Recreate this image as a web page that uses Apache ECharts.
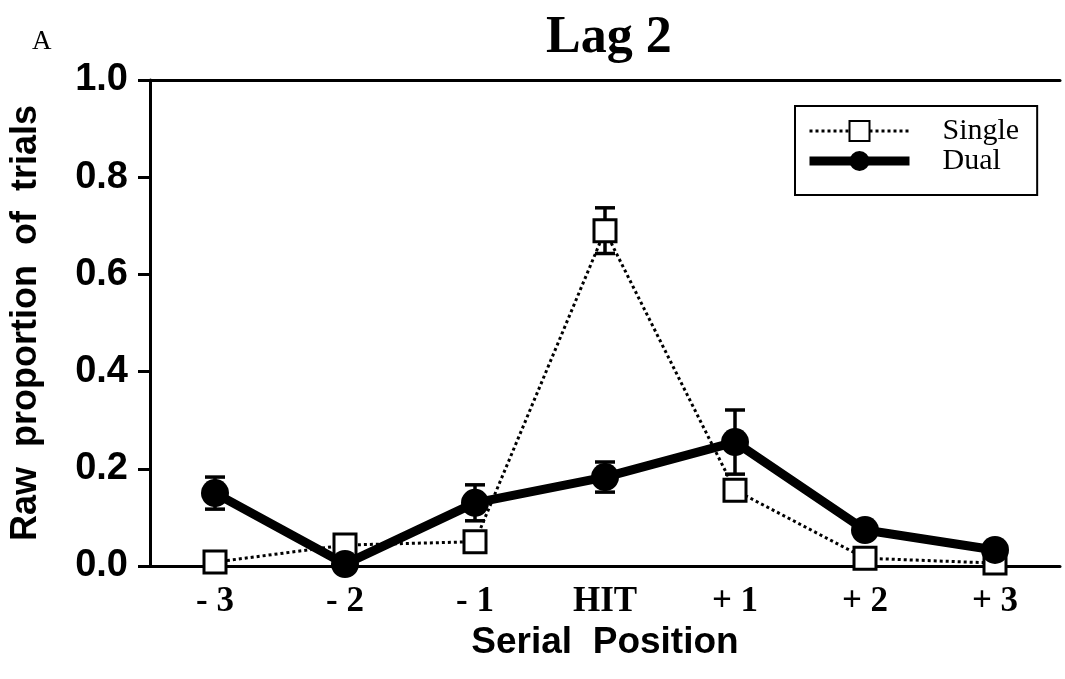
<!DOCTYPE html>
<html><head><meta charset="utf-8">
<script src="https://cdn.jsdelivr.net/npm/echarts@6/dist/echarts.min.js"></script>
<style>html,body{margin:0;padding:0;background:#fff}#c{width:1065px;height:679px}</style>
</head><body><div id="c"></div>
<script>
var categories = ['- 3', '- 2', '- 1', 'HIT', '+ 1', '+ 2', '+ 3'];
var singleValues = [0.008, 0.043, 0.05, 0.69, 0.156, 0.016, 0.006];
var singleErr = [0, 0, 0, 0.047, 0.02, 0, 0];
var dualValues = [0.15, 0.004, 0.13, 0.183, 0.255, 0.074, 0.033];
var dualErr = [0.033, 0, 0.037, 0.031, 0.066, 0, 0];

function errData(vals, errs) {
  var out = [];
  for (var i = 0; i < vals.length; i++) {
    if (errs[i] > 0) out.push([i, vals[i] - errs[i], vals[i] + errs[i]]);
  }
  return out;
}
function renderErr(params, api) {
  var x = api.value(0);
  var lo = api.coord([x, api.value(1)]);
  var hi = api.coord([x, api.value(2)]);
  var hw = 10;
  var st = {stroke: '#000', lineWidth: 3.5, fill: null};
  return {type: 'group', children: [
    {type: 'line', shape: {x1: lo[0], y1: lo[1], x2: hi[0], y2: hi[1]}, style: st},
    {type: 'line', shape: {x1: lo[0] - hw, y1: lo[1], x2: lo[0] + hw, y2: lo[1]}, style: st},
    {type: 'line', shape: {x1: hi[0] - hw, y1: hi[1], x2: hi[0] + hw, y2: hi[1]}, style: st}
  ]};
}

var chart = echarts.init(document.getElementById('c'));
chart.setOption({
  backgroundColor: '#fff',
  animation: false,
  title: [
    {text: 'Lag 2', left: 541, top: 8, textStyle: {fontFamily: 'Liberation Serif', fontWeight: 'bold', fontSize: 52, color: '#000'}},
    {text: 'A', left: 27, top: 23, textStyle: {fontFamily: 'Liberation Serif', fontWeight: 'normal', fontSize: 27, color: '#000'}}
  ],
  grid: {left: 150, right: 5, top: 80, bottom: 113},
  legend: {
    left: 795, top: 106, orient: 'vertical',
    backgroundColor: '#fff', borderColor: '#000', borderWidth: 2, borderRadius: 0,
    padding: [10, 18, 19, 10], itemGap: 0, itemWidth: 100, itemHeight: 25,
    textStyle: {fontFamily: 'Liberation Serif', fontSize: 30, color: '#000', padding: [0, 0, 0, 28], lineHeight: 25},
    data: [
      {name: 'Single', lineStyle: {width: 3, type: [3, 3], color: '#000'}},
      {name: 'Dual', lineStyle: {width: 9, color: '#000'}}
    ]
  },
  xAxis: [{
    type: 'category', data: categories, boundaryGap: true,
    name: 'Serial  Position', nameLocation: 'middle', nameGap: 57,
    nameTextStyle: {fontFamily: 'Liberation Sans', fontWeight: 'bold', fontSize: 37, color: '#000'},
    axisLine: {lineStyle: {color: '#000', width: 3}},
    axisTick: {alignWithLabel: true, length: 10, lineStyle: {color: '#000', width: 3}},
    axisLabel: {margin: 18, fontFamily: 'Liberation Serif', fontWeight: 'bold', fontSize: 35, color: '#000'},
    splitLine: {show: false}
  }, {
    type: 'category', data: categories, position: 'top',
    axisLine: {lineStyle: {color: '#000', width: 3}},
    axisTick: {show: false}, axisLabel: {show: false}, splitLine: {show: false}
  }],
  yAxis: {
    type: 'value', min: 0, max: 1, interval: 0.2,
    name: 'Raw  proportion  of  trials', nameLocation: 'middle', nameGap: 106,
    nameTextStyle: {fontFamily: 'Liberation Sans', fontWeight: 'bold', fontSize: 36, color: '#000'},
    axisLine: {show: true, lineStyle: {color: '#000', width: 3}},
    axisTick: {show: true, length: 12, lineStyle: {color: '#000', width: 3}},
    axisLabel: {margin: 22, fontFamily: 'Liberation Sans', fontWeight: 'bold', fontSize: 38, color: '#000',
      formatter: function (v) { return v.toFixed(1); }},
    splitLine: {show: false}
  },
  series: [
    {name: 'Single', type: 'line', data: singleValues, symbol: 'rect', symbolSize: 22,
      lineStyle: {color: '#000', width: 3, type: [3, 3]},
      itemStyle: {color: '#fff', borderColor: '#000', borderWidth: 3}, z: 2},
    {name: 'SingleErr', type: 'custom', data: errData(singleValues, singleErr), renderItem: renderErr, z: 1},
    {name: 'Dual', type: 'line', data: dualValues, symbol: 'circle', symbolSize: 28,
      lineStyle: {color: '#000', width: 9},
      itemStyle: {color: '#000', borderColor: '#000', borderWidth: 0}, z: 4},
    {name: 'DualErr', type: 'custom', data: errData(dualValues, dualErr), renderItem: renderErr, z: 3}
  ]
});
</script></body></html>
